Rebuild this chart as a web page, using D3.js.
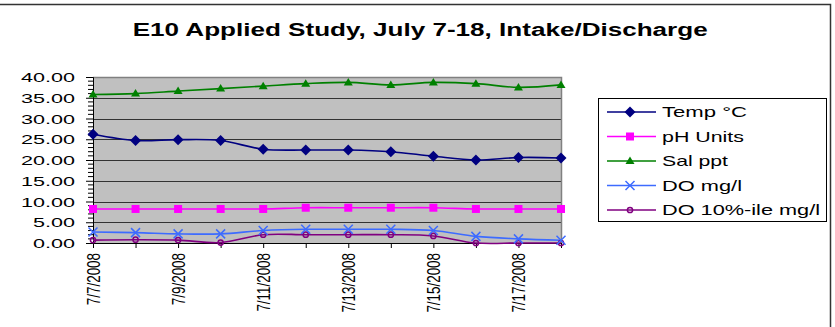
<!DOCTYPE html>
<html><head><meta charset="utf-8">
<script src="https://cdn.jsdelivr.net/npm/d3@7"></script>
<style>body{margin:0;background:#fff}svg{display:block;font-family:"Liberation Sans",Arial,sans-serif}</style>
</head><body>
<svg id="c" width="835" height="327"></svg>
<script>
const title = "E10 Applied Study, July 7-18, Intake/Discharge";
const dates = ["7/7/2008","7/8/2008","7/9/2008","7/10/2008","7/11/2008","7/12/2008","7/13/2008","7/14/2008","7/15/2008","7/16/2008","7/17/2008","7/18/2008"];
const labeledDates = ["7/7/2008","7/9/2008","7/11/2008","7/13/2008","7/15/2008","7/17/2008"];
const yTicks = [0,5,10,15,20,25,30,35,40];
const temp = [26.2,24.7,24.9,24.7,22.6,22.4,22.4,22.0,20.9,20.0,20.6,20.5];
const ph   = [8.2,8.2,8.2,8.2,8.2,8.5,8.5,8.5,8.5,8.2,8.2,8.2];
const sal  = [35.8,36.0,36.6,37.2,37.8,38.4,38.7,38.1,38.7,38.4,37.5,38.1];
const doV  = [2.65,2.5,2.2,2.2,3.0,3.3,3.3,3.3,3.0,1.6,1.0,0.65];
const do10 = [0.7,0.8,0.7,0.1,2.0,2.0,2.0,2.0,1.7,0.0,0.0,0.0];
const seriesNames = ["Temp °C","pH Units","Sal ppt","DO mg/l","DO 10%-ile mg/l"];

const series = [
  {name:seriesNames[0], values:temp, color:"#000080", marker:"diamond"},
  {name:seriesNames[1], values:ph,   color:"#FF00FF", marker:"square"},
  {name:seriesNames[2], values:sal,  color:"#008000", marker:"triangle"},
  {name:seriesNames[3], values:doV,  color:"#3D6BFF", marker:"x"},
  {name:seriesNames[4], values:do10, color:"#800080", marker:"circle"}
];

const svg = d3.select("#c");
const L=93, R=561, T=77, B=243;
const x = d3.scalePoint().domain(dates).range([L,R]);
const y = d3.scaleLinear().domain([0,40]).range([B,T]);

// outer border
svg.append("rect").attr("x",-2).attr("y",4.5).attr("width",832.5).attr("height",330)
  .attr("fill","#fff").attr("stroke","#333").attr("stroke-width",1.5);

function stretch(sel, sx){
  sel.each(function(){
    const w = this.getComputedTextLength();
    d3.select(this).attr("textLength", w*sx).attr("lengthAdjust","spacingAndGlyphs");
  });
}

// title
const tt = svg.append("text").attr("x",132.7).attr("y",35.7)
  .attr("font-size",18).attr("font-weight","bold").attr("fill","#000").text(title);
tt.attr("textLength",575).attr("lengthAdjust","spacingAndGlyphs");

// plot background
svg.append("rect").attr("x",L).attr("y",T).attr("width",R-L).attr("height",B-T).attr("fill","#C0C0C0");

// gridlines
svg.append("g").selectAll("line").data(yTicks.filter(v=>v>0 && v<40)).join("line")
  .attr("x1",L).attr("x2",R).attr("y1",d=>Math.round(y(d))+0.5).attr("y2",d=>Math.round(y(d))+0.5)
  .attr("stroke","#333").attr("stroke-width",1);

// plot border top/right
svg.append("path").attr("d",`M${L},${T+0.5}H${R+0.5}V${B}`).attr("fill","none").attr("stroke","#808080").attr("stroke-width",1.5);

// y axis
const yAxis = svg.append("g").attr("transform",`translate(${L},0)`)
  .call(d3.axisLeft(y).tickValues(yTicks).tickSize(7).tickFormat(d=>d3.format(".2f")(d)));
yAxis.select(".domain").attr("stroke","#000");
yAxis.selectAll(".tick line").attr("stroke","#000");
yAxis.selectAll(".tick text").remove();
// minor ticks
svg.append("g").selectAll("line").data(d3.range(0,41).filter(v=>v%5!==0)).join("line")
  .attr("x1",L-5).attr("x2",L).attr("y1",d=>y(d)).attr("y2",d=>y(d)).attr("stroke","#000");
// y labels
const yl = svg.append("g").selectAll("text").data(yTicks).join("text")
  .attr("font-size",13).attr("fill","#000").attr("y",d=>y(d)+5)
  .text(d=>d3.format(".2f")(d));
let refW = 0;
yl.each(function(d){ if(d===40) refW=this.getComputedTextLength(); });
const sx = 54/refW;
yl.each(function(){
  const w=this.getComputedTextLength()*sx;
  d3.select(this).attr("x",75-w).attr("textLength",w).attr("lengthAdjust","spacingAndGlyphs");
});

// x axis
const xAxis = svg.append("g").attr("transform",`translate(0,${B})`)
  .call(d3.axisBottom(x).tickSize(5).tickFormat(""));
xAxis.select(".domain").attr("stroke","#000");
xAxis.selectAll(".tick line").attr("stroke","#000");
svg.append("g").selectAll("text").data(labeledDates).join("text")
  .attr("transform",d=>`translate(${x(d)},253) rotate(-90) scale(1,1.4)`)
  .attr("text-anchor","end").attr("dy","0.35em").attr("font-size",13.4).attr("fill","#000")
  .text(d=>d);

// lines
const line = d3.line().x((d,i)=>x(dates[i])).y(d=>y(d)).curve(d3.curveCatmullRom.alpha(0.5));
function marker(g, type, color, cx, cy){
  if(type==="diamond") g.append("path").attr("d",`M${cx},${cy-5.5}L${cx+5.5},${cy}L${cx},${cy+5.5}L${cx-5.5},${cy}Z`).attr("fill",color);
  else if(type==="square") g.append("rect").attr("x",cx-4).attr("y",cy-4).attr("width",8).attr("height",8).attr("fill",color);
  else if(type==="triangle") g.append("path").attr("d",`M${cx},${cy-4.5}L${cx+4.5},${cy+3}L${cx-4.5},${cy+3}Z`).attr("fill",color);
  else if(type==="x") g.append("path").attr("d",`M${cx-4.5},${cy-4.5}L${cx+4.5},${cy+4.5}M${cx+4.5},${cy-4.5}L${cx-4.5},${cy+4.5}`).attr("stroke",color).attr("stroke-width",1.5).attr("fill","none");
  else if(type==="circle") g.append("circle").attr("cx",cx).attr("cy",cy).attr("r",2.6).attr("fill","none").attr("stroke",color).attr("stroke-width",1.5);
}
const plotG = svg.append("g");
[...series].reverse().forEach(s=>{
  plotG.append("path").datum(s.values).attr("d",line).attr("fill","none").attr("stroke",s.color).attr("stroke-width",1.6);
});
[...series].reverse().forEach(s=>{
  const g = plotG.append("g");
  s.values.forEach((v,i)=>marker(g,s.marker,s.color,x(dates[i]),y(v)));
});

// legend
svg.append("rect").attr("x",598.5).attr("y",98.5).attr("width",228).attr("height",123)
  .attr("fill","#fff").attr("stroke","#000").attr("stroke-width",1);
const legW = [85,82,66,80,158];
series.forEach((s,i)=>{
  const cy = 112 + i*24.5;
  const g = svg.append("g");
  g.append("line").attr("x1",607).attr("x2",656).attr("y1",cy).attr("y2",cy).attr("stroke",s.color).attr("stroke-width",1.6);
  marker(g,s.marker,s.color,630,cy);
  g.append("text").attr("x",662).attr("y",cy+5).attr("font-size",15).attr("fill","#000")
    .attr("textLength",legW[i]).attr("lengthAdjust","spacingAndGlyphs").text(s.name);
});
</script>
</body></html>
